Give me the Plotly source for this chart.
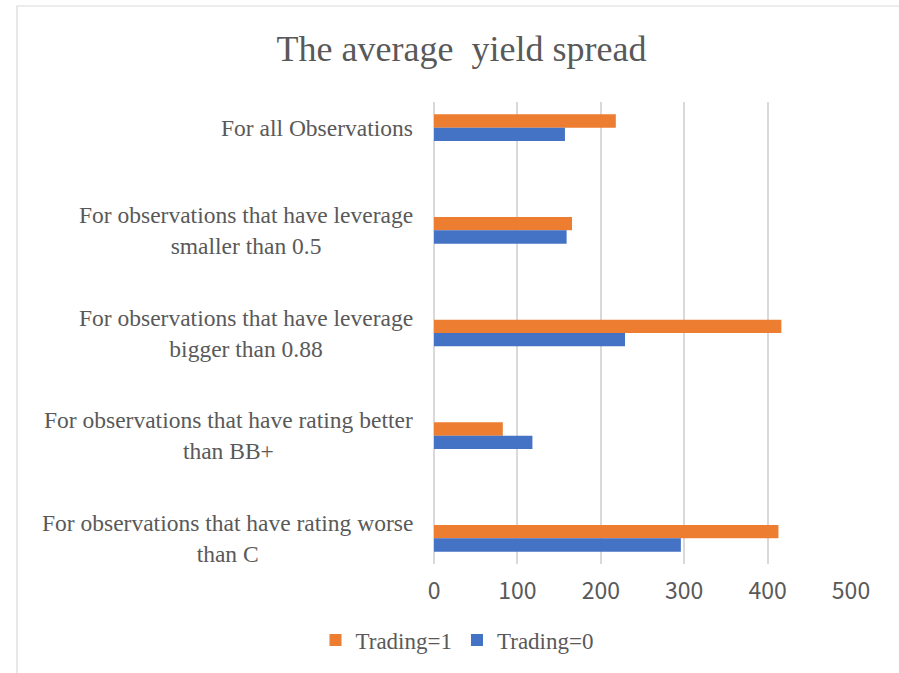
import plotly.graph_objects as go

# Average yield spread by sample subset
categories = [
    "For all Observations",
    "For observations that have leverage<br>smaller than 0.5",
    "For observations that have leverage<br>bigger than 0.88",
    "For observations that have rating better<br>than BB+",
    "For observations that have rating worse<br>than C",
]
trading_1 = [218, 165.5, 416.5, 82.5, 413]
trading_0 = [157, 159, 229, 118, 296]
x_ticks = [0, 100, 200, 300, 400, 500]

ORANGE = "#ED7D31"
BLUE = "#4472C4"
GRID = "#D9D9D9"
TEXT = "#595959"
SERIF = "Liberation Serif"
SANS = "Noto Sans CJK SC"

W, H = 899, 673
L, R, T, B = 434, 48, 102, 109
plot_w = W - L - R
plot_h = H - T - B

ypos = list(range(len(categories)))

fig = go.Figure()
fig.add_trace(go.Bar(
    y=ypos, x=trading_1, orientation="h", name="Trading=1",
    marker=dict(color=ORANGE, line=dict(width=0)),
))
fig.add_trace(go.Bar(
    y=ypos, x=trading_0, orientation="h", name="Trading=0",
    marker=dict(color=BLUE, line=dict(width=0)),
))

# Category labels, centred line by line and right-aligned against the axis
annotations = []
for i, label in enumerate(categories):
    annotations.append(dict(
        text=label, xref="paper", yref="y", x=(415 - L) / plot_w, y=i,
        xanchor="right", yanchor="middle", align="center", showarrow=False,
        font=dict(family=SERIF, size=23.5, color=TEXT),
    ))

# Light outer frame of the chart area
shapes = [dict(
    type="rect", xref="paper", yref="paper",
    x0=(17 - L) / plot_w, x1=(910 - L) / plot_w,
    y0=(T + plot_h - 690) / plot_h, y1=(T + plot_h - 6) / plot_h,
    line=dict(color=GRID, width=1.2), fillcolor="rgba(0,0,0,0)", layer="below",
)]

fig.update_layout(
    width=W, height=H,
    margin=dict(l=L, r=R, t=T, b=B),
    paper_bgcolor="white", plot_bgcolor="white",
    barmode="group", bargap=0.74, bargroupgap=0,
    title=dict(
        text="The average  yield spread", xref="container", yref="container",
        x=461.5 / W, y=1 - 48 / H, xanchor="center", yanchor="middle",
        font=dict(family=SERIF, size=36, color=TEXT),
    ),
    xaxis=dict(
        range=[0, 500], tickvals=x_ticks, showgrid=True, gridcolor=GRID, gridwidth=1.5,
        zeroline=True, zerolinecolor=GRID, zerolinewidth=1.5, showline=False,
        ticks="", ticklabelstandoff=11,
        tickfont=dict(family=SANS, size=23, color=TEXT),
        fixedrange=True,
    ),
    yaxis=dict(
        range=[4.25, -0.25], showticklabels=False, showgrid=False,
        zeroline=False, showline=False, ticks="",
    ),
    legend=dict(
        orientation="h", x=(457 - L) / plot_w, y=(T + plot_h - 640) / plot_h,
        xanchor="center", yanchor="middle", traceorder="normal",
        font=dict(family=SERIF, size=23, color=TEXT),
        itemwidth=30,
    ),
    annotations=annotations,
    shapes=shapes,
    showlegend=True,
)

fig.write_html("out.html")
